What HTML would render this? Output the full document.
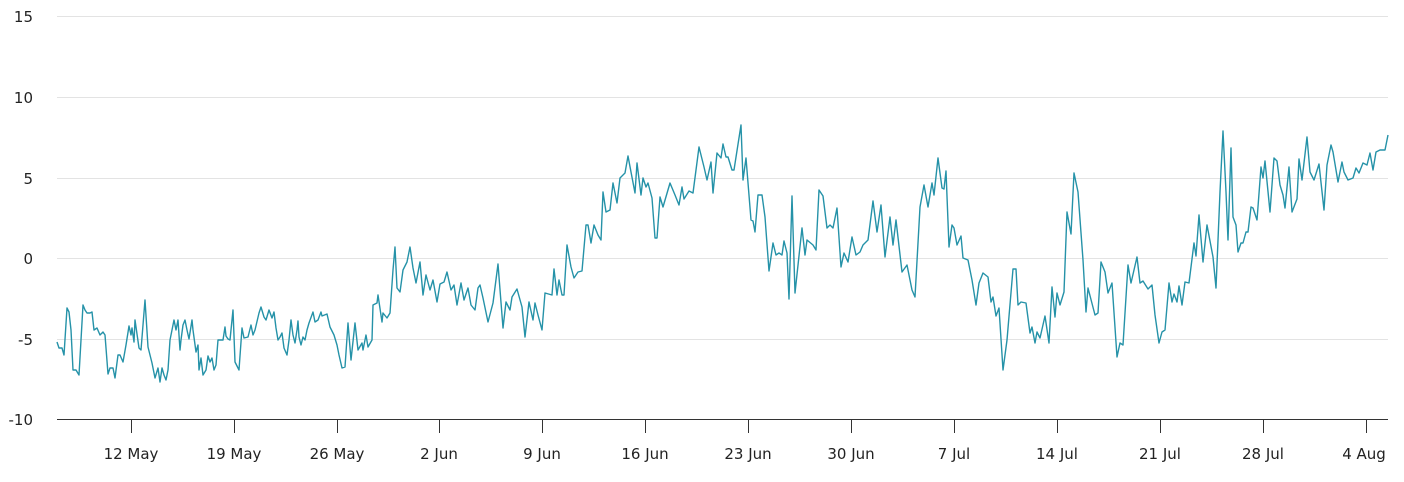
<!DOCTYPE html>
<html><head><meta charset="utf-8"><style>
body{margin:0;background:#fff}
svg{display:block}
text{font-family:"DejaVu Sans","Liberation Sans",sans-serif;font-size:15px;fill:#222}
</style></head><body>
<svg width="1404" height="482" viewBox="0 0 1404 482">
<g stroke="#e3e3e3" stroke-width="1">
<line x1="57" y1="16.5" x2="1388" y2="16.5"/>
<line x1="57" y1="97.5" x2="1388" y2="97.5"/>
<line x1="57" y1="178.5" x2="1388" y2="178.5"/>
<line x1="57" y1="258.5" x2="1388" y2="258.5"/>
<line x1="57" y1="339.5" x2="1388" y2="339.5"/>
</g>
<line x1="57" y1="419.5" x2="1388" y2="419.5" stroke="#333" stroke-width="1"/>
<g stroke="#333" stroke-width="1">
<line x1="131.5" y1="420" x2="131.5" y2="433"/><line x1="234.5" y1="420" x2="234.5" y2="433"/>
<line x1="337.5" y1="420" x2="337.5" y2="433"/><line x1="439.5" y1="420" x2="439.5" y2="433"/>
<line x1="542.5" y1="420" x2="542.5" y2="433"/><line x1="645.5" y1="420" x2="645.5" y2="433"/>
<line x1="748.5" y1="420" x2="748.5" y2="433"/><line x1="851.5" y1="420" x2="851.5" y2="433"/>
<line x1="954.5" y1="420" x2="954.5" y2="433"/><line x1="1057.5" y1="420" x2="1057.5" y2="433"/>
<line x1="1160.5" y1="420" x2="1160.5" y2="433"/><line x1="1263.5" y1="420" x2="1263.5" y2="433"/>
<line x1="1366.5" y1="420" x2="1366.5" y2="433"/>
</g>
<g text-anchor="end">
<text x="33" y="22">15</text><text x="33" y="103">10</text><text x="33" y="184">5</text>
<text x="33" y="264">0</text><text x="33" y="345">-5</text><text x="33" y="425">-10</text>
</g>
<g text-anchor="middle">
<text x="131" y="459">12 May</text><text x="234" y="459">19 May</text><text x="337" y="459">26 May</text>
<text x="439" y="459">2 Jun</text><text x="542" y="459">9 Jun</text><text x="645" y="459">16 Jun</text>
<text x="748" y="459">23 Jun</text><text x="851" y="459">30 Jun</text><text x="954" y="459">7 Jul</text>
<text x="1057" y="459">14 Jul</text><text x="1160" y="459">21 Jul</text><text x="1263" y="459">28 Jul</text>
<text x="1364" y="459">4 Aug</text>
</g>
<polyline fill="none" stroke="#2592a8" stroke-width="1.4" stroke-linejoin="round" points="
57,342 59,348 62,348 64,355 67,308 69,312 71,330 73,370 76,370 79,375 83,305 85,310 87,313 90,313 92,312 94,330 97,328 100,335 103,332 105,335 108,374 110,368 113,368 115,378 118,355 120,355 123,362 126,345 129,326 131,335 132,328 134,342 135,320 137,334 139,348 141,350 145,300 148,347 152,363 155,378 158,368 160,382 162,368 164,375 166,380 168,370 170,340 172,330 174,320 176,330 178,320 180,350 181,340 183,325 185,320 187,330 189,339 192,320 193,330 196,352 198,345 199,370 201,358 203,375 206,370 208,356 210,362 212,358 214,370 216,365 218,340 223,340 225,327 226,336 228,339 230,340 233,310 235,362 239,370 242,328 244,338 248,337 251,325 253,335 255,330 259,313 261,307 264,317 266,320 269,310 272,318 274,312 276,328 278,340 280,337 282,333 284,348 287,355 289,340 291,320 293,335 295,343 297,330 298,321 299,337 301,345 303,337 305,340 307,330 309,323 313,312 315,322 318,320 321,312 322,316 327,314 330,327 334,335 337,345 339,355 342,368 345,367 348,323 351,360 355,323 358,350 362,343 363,350 366,335 368,347 372,340 373,305 377,303 378,295 382,322 383,313 387,318 390,313 393,270 395,247 397,288 400,292 403,270 407,262 410,247 413,268 416,283 420,262 423,295 426,275 430,290 433,280 437,302 440,284 444,282 447,272 451,290 454,285 457,305 461,283 464,300 468,288 471,305 475,310 478,288
480,285 483,298 488,322 493,303 498,264 503,328 506,302 510,310 512,297 517,289 522,307 525,337 529,302 533,320 535,303 538,315 542,330 545,293 552,295 554,269 557,295 559,280 562,295 564,295 567,245 571,267 574,278 578,272 582,271 586,225 588,225 591,243 594,225 598,235 601,240 603,192 606,212 610,210 613,183 617,203 620,178 625,173 628,156 631,172 635,193 637,163 641,195 643,178 646,187 648,183 652,198 655,238 657,238 660,197 663,207 670,183 675,195 679,205 682,187 684,199 689,191 693,193 699,147 704,167 707,180 711,162 713,193 717,153 721,158 723,144 726,157 728,157 732,170 734,170 741,125 743,180 746,158 751,220 753,221 755,232 758,195 762,195 765,217 769,271 773,243 776,255 779,253 782,255 784,241 787,253 789,299 792,196 795,293 802,228 805,255 807,240 813,245 816,250 819,190 823,196 827,228 830,225 833,228 837,208 841,267 844,253 848,262 852,237 856,255 860,252 863,245 868,240 873,201 877,232 881,205 885,257 890,217 893,245 896,220 902,272 907,265 912,290 915,297
920,207 924,185 928,207 932,183 934,195 938,158 942,188 944,189 946,171 949,247 952,225 954,228 957,245 961,236 963,258 968,260 972,280 976,305 979,283 983,273 988,277 991,302 993,297 996,316 999,308 1003,370 1007,340 1013,269 1016,269 1018,305 1021,302 1026,303 1030,333 1032,327 1035,343 1037,332 1040,338 1045,316 1049,343 1052,287 1055,317 1057,293 1060,305 1064,292 1067,212 1071,234 1074,173 1078,192 1083,260 1086,312 1088,288 1095,315 1098,313 1101,262 1105,272 1108,293 1112,283 1117,357 1120,343 1123,345 1128,265 1131,283 1137,257 1140,283 1143,281 1148,289 1152,285 1155,315 1159,343 1162,332 1165,330 1169,283 1172,302 1174,294 1177,302 1179,286 1182,305 1185,282 1189,283 1194,243 1196,256 1199,215 1203,262 1207,225 1213,257 1216,288 1220,192 1223,131 1226,192 1228,240 1231,148 1233,217 1236,225 1238,252 1241,243 1243,243 1246,232 1248,232 1251,207 1253,208 1257,220 1261,167 1263,178 1265,161 1270,212 1274,158 1277,161 1280,185 1283,195 1285,208 1289,167 1292,212 1297,199 1299,159 1302,180 1307,137 1310,172 1314,180 1319,164 1324,210 1327,165 1331,145 1333,152 1338,182 1342,162 1344,172 1348,180 1353,178 1356,168 1359,173 1363,163 1367,165 1370,153 1373,170 1376,152 1380,150 1385,150 1388,135"/>
</svg>
</body></html>
